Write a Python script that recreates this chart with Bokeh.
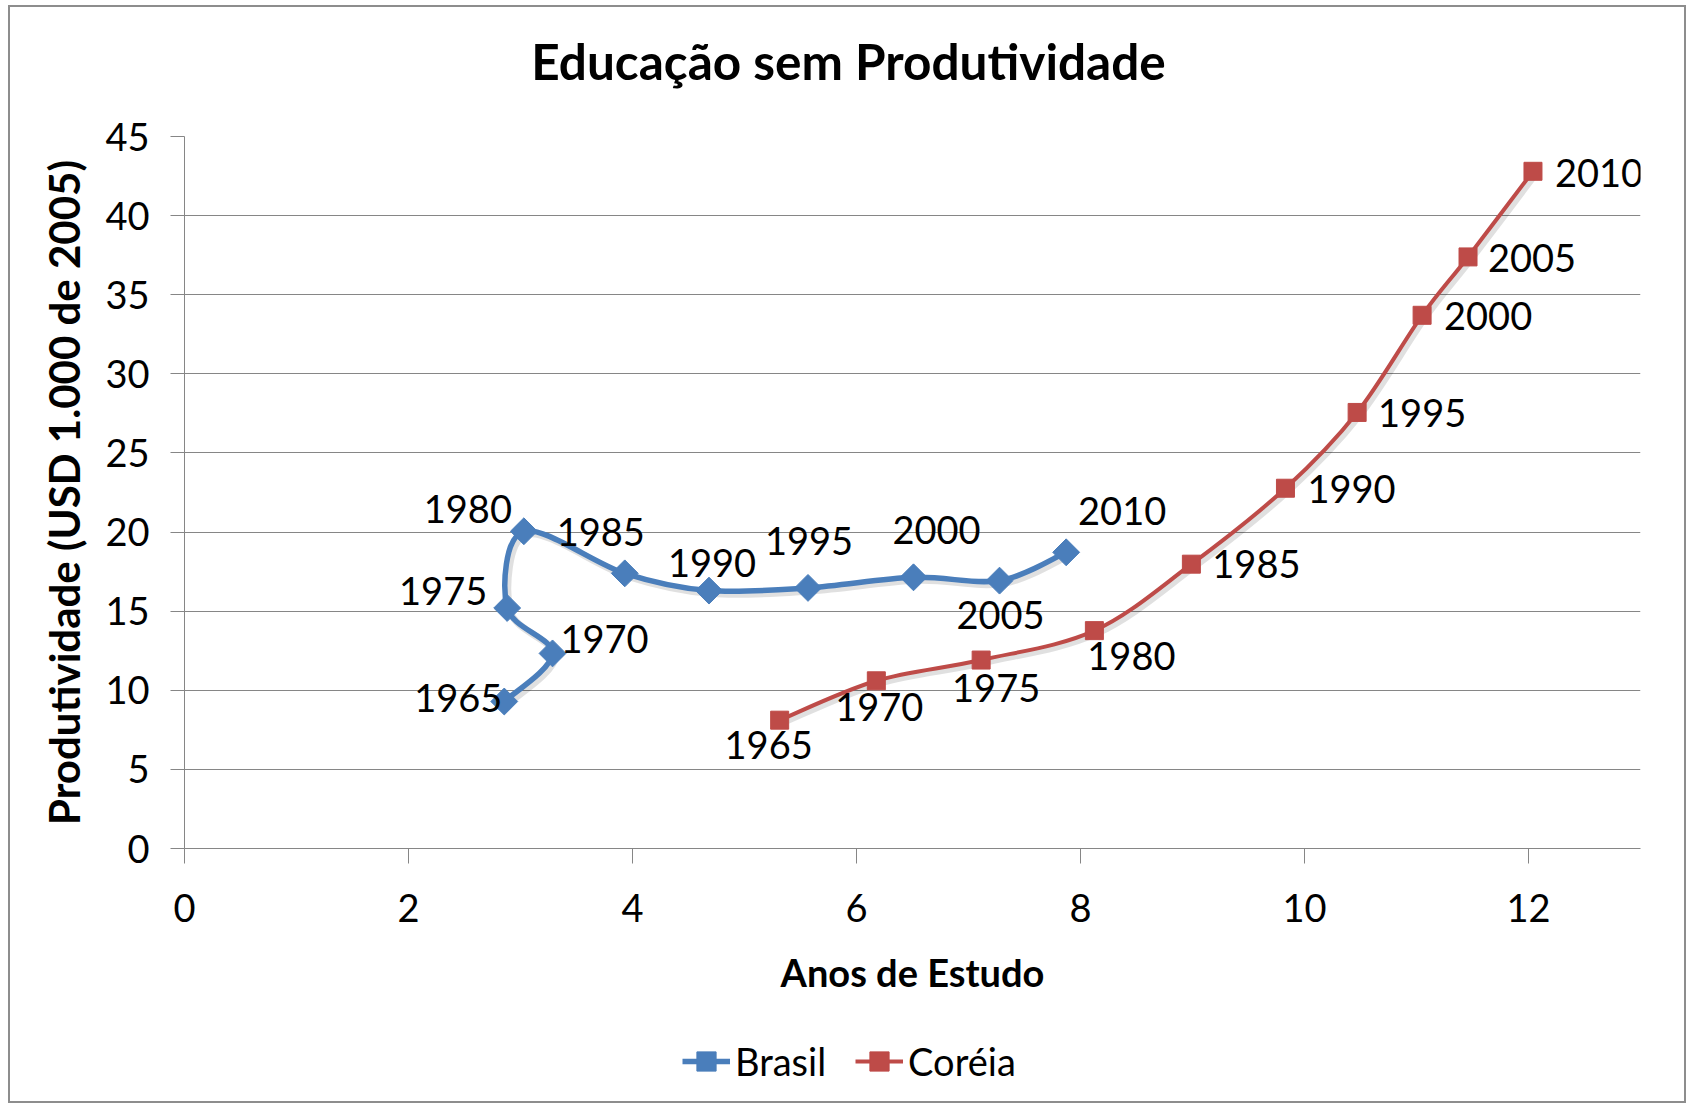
import numpy as np
from bokeh.plotting import figure
from bokeh.layouts import column
from bokeh.models import (ColumnDataSource, LabelSet, Label, Legend, LegendItem,
                          SingleIntervalTicker, Range1d)
from bokeh.core.properties import value
from bokeh.embed import file_html
from bokeh.resources import INLINE

# ---------------- data ----------------
years = [1965, 1970, 1975, 1980, 1985, 1990, 1995, 2000, 2005, 2010]
year_labels = [str(y) for y in years]

brasil_x = [2.855, 3.286, 2.881, 3.030, 3.931, 4.683, 5.567, 6.509, 7.277, 7.872]
brasil_y = [9.29, 12.33, 15.20, 20.05, 17.39, 16.30, 16.47, 17.14, 16.93, 18.72]

korea_x = [5.314, 6.177, 7.113, 8.124, 8.990, 9.830, 10.470, 11.050, 11.460, 12.040]
korea_y = [8.11, 10.60, 11.91, 13.77, 17.97, 22.77, 27.56, 33.70, 37.39, 42.80]

series_names = ["Brasil", "Coréia"]
title_text = "Educação sem Produtividade"
x_title = "Anos de Estudo"
y_title = "Produtividade (USD 1.000 de 2005)"

# label placement (screen px offsets, style only)
brasil_dx = [-46, 52, -64, -56, -24, 3, 1, 23, 1, 56]
brasil_dy = [4, 14, 17, 22, 41, 28, 47, 47, -34, 41]
korea_dx = [-11, 3, 15, 37, 65, 66, 65, 66, 64, 66]
korea_dy = [-25, -26, -28, -25, 0, -1, -1, -1, -1, -2]

BLUE = "#4A7EBB"
RED = "#BE4B48"
GRID = "#868686"
FONT = "Lato"
W = 1674
FRAME_LEFT, FRAME_RIGHT = 174, 44
X_MAX, Y_MAX = 13, 45


def bezier_segments(xs, ys, ox=0.0, oy=0.0):
    """Smoothed (Catmull-Rom) bezier segments through the data points."""
    x = np.asarray(xs, float) + ox
    y = np.asarray(ys, float) + oy
    n = len(x)
    d = dict(x0=[], y0=[], x1=[], y1=[], cx0=[], cy0=[], cx1=[], cy1=[])
    for i in range(n - 1):
        ip, inx = max(i - 1, 0), min(i + 2, n - 1)
        d["x0"].append(x[i]); d["y0"].append(y[i])
        d["x1"].append(x[i + 1]); d["y1"].append(y[i + 1])
        d["cx0"].append(x[i] + (x[i + 1] - x[ip]) / 6.0)
        d["cy0"].append(y[i] + (y[i + 1] - y[ip]) / 6.0)
        d["cx1"].append(x[i + 1] - (x[inx] - x[i]) / 6.0)
        d["cy1"].append(y[i + 1] - (y[inx] - y[i]) / 6.0)
    return ColumnDataSource(d)


def blank_fig(h, xr=(0, 1), yr=(0, 1)):
    f = figure(width=W, height=h, x_range=Range1d(*xr), y_range=Range1d(*yr),
               x_axis_type=None, y_axis_type=None, min_border=0,
               output_backend="svg", toolbar_location=None,
               background_fill_color="white", border_fill_color="white",
               outline_line_color=None)
    f.grid.visible = False
    return f


# ---------------- title strip ----------------
pt = blank_fig(94)
pt.add_layout(Label(x=838 - FRAME_LEFT, y=41, x_units="screen", y_units="screen", text=title_text,
                    text_font=FONT, text_font_size="49.5px", text_font_style="bold",
                    text_align="center", text_baseline="middle", text_color="black"))

# ---------------- main chart ----------------
FRAME_H = 712
p = figure(width=W, height=912,
           x_range=Range1d(0, X_MAX), y_range=Range1d(0, Y_MAX),
           output_backend="svg", toolbar_location=None,
           min_border_left=FRAME_LEFT, min_border_right=FRAME_RIGHT,
           min_border_top=35, min_border_bottom=165,
           background_fill_color="white", border_fill_color="white",
           outline_line_color=None)

p.xaxis.ticker = SingleIntervalTicker(interval=2)
p.yaxis.ticker = SingleIntervalTicker(interval=5)
for ax in (p.xaxis[0], p.yaxis[0]):
    ax.axis_line_color = GRID
    ax.axis_line_width = 1
    ax.major_tick_line_color = GRID
    ax.major_tick_in = 0
    ax.minor_tick_line_color = None
    ax.major_label_text_font = FONT
    ax.major_label_text_font_size = "38px"
    ax.major_label_text_color = "black"
    ax.axis_label_text_font = FONT
    ax.axis_label_text_font_style = "bold"
    ax.axis_label_text_color = "black"
p.xaxis.major_tick_out = 15
p.yaxis.major_tick_out = 14
p.xaxis.major_label_standoff = 30
p.yaxis.major_label_standoff = 21
p.xaxis.axis_label = x_title
p.yaxis.axis_label = y_title
p.xaxis.axis_label_text_font_size = "38px"
p.yaxis.axis_label_text_font_size = "42px"
p.xaxis.axis_label_standoff = 24
p.yaxis.axis_label_standoff = 13

p.xgrid.grid_line_color = None
p.ygrid.grid_line_color = GRID
p.ygrid.grid_line_width = 1

# soft drop shadow (3px right/down), as in the original
sx = 3.0 * X_MAX / (W - FRAME_LEFT - FRAME_RIGHT)
sy = -3.0 * Y_MAX / FRAME_H
for xs, ys, lw in ((brasil_x, brasil_y, 7), (korea_x, korea_y, 6)):
    p.bezier(x0="x0", y0="y0", x1="x1", y1="y1", cx0="cx0", cy0="cy0", cx1="cx1", cy1="cy1",
             source=bezier_segments(xs, ys, sx, sy), line_color="black", line_alpha=0.12,
             line_width=lw, line_cap="round")

bsrc = ColumnDataSource(dict(x=brasil_x, y=brasil_y, t=year_labels, dx=brasil_dx, dy=brasil_dy))
ksrc = ColumnDataSource(dict(x=korea_x, y=korea_y, t=year_labels, dx=korea_dx, dy=korea_dy))

p.bezier(x0="x0", y0="y0", x1="x1", y1="y1", cx0="cx0", cy0="cy0", cx1="cx1", cy1="cy1",
         source=bezier_segments(brasil_x, brasil_y), line_color=BLUE, line_width=5.5,
         line_cap="round")
p.bezier(x0="x0", y0="y0", x1="x1", y1="y1", cx0="cx0", cy0="cy0", cx1="cx1", cy1="cy1",
         source=bezier_segments(korea_x, korea_y), line_color=RED, line_width=4,
         line_cap="round")

p.scatter("x", "y", source=bsrc, marker="square", angle=np.pi / 4, size=19,
          fill_color=BLUE, line_color=BLUE)
p.scatter("x", "y", source=ksrc, marker="square", size=18,
          fill_color=RED, line_color=RED)

for src in (bsrc, ksrc):
    p.add_layout(LabelSet(x="x", y="y", text="t", source=src, x_offset="dx", y_offset="dy",
                          text_align="center", text_baseline="middle",
                          text_font=value(FONT), text_font_size="38px", text_color="black"))

# ---------------- legend strip ----------------
# ranges chosen so the series themselves fall outside this strip; only the legend shows
pl = blank_fig(88, xr=(100, 101), yr=(100, 101))
bl = pl.line("x", "y", source=bsrc, line_color=BLUE, line_width=5.5)
bm = pl.scatter("x", "y", source=bsrc, marker="square", angle=np.pi / 4, size=19,
                fill_color=BLUE, line_color=BLUE)
kl = pl.line("x", "y", source=ksrc, line_color=RED, line_width=4)
km = pl.scatter("x", "y", source=ksrc, marker="square", size=18, fill_color=RED, line_color=RED)
legend = Legend(items=[LegendItem(label=series_names[0], renderers=[bl, bm]),
                       LegendItem(label=series_names[1], renderers=[kl, km])],
                location=(672 - FRAME_LEFT, 16), orientation="horizontal",
                glyph_width=48, glyph_height=48, label_standoff=5, spacing=29,
                padding=0, margin=0, border_line_color=None, background_fill_alpha=0,
                label_text_font=FONT, label_text_font_size="38px", label_text_color="black")
pl.add_layout(legend, "center")

layout = column(pt, p, pl, spacing=0)
layout.styles = {"border": "2px solid #8d8d8d", "margin-left": "8px", "margin-top": "5px",
                 "background-color": "white"}

open("out.html", "w").write(file_html(layout, INLINE))
